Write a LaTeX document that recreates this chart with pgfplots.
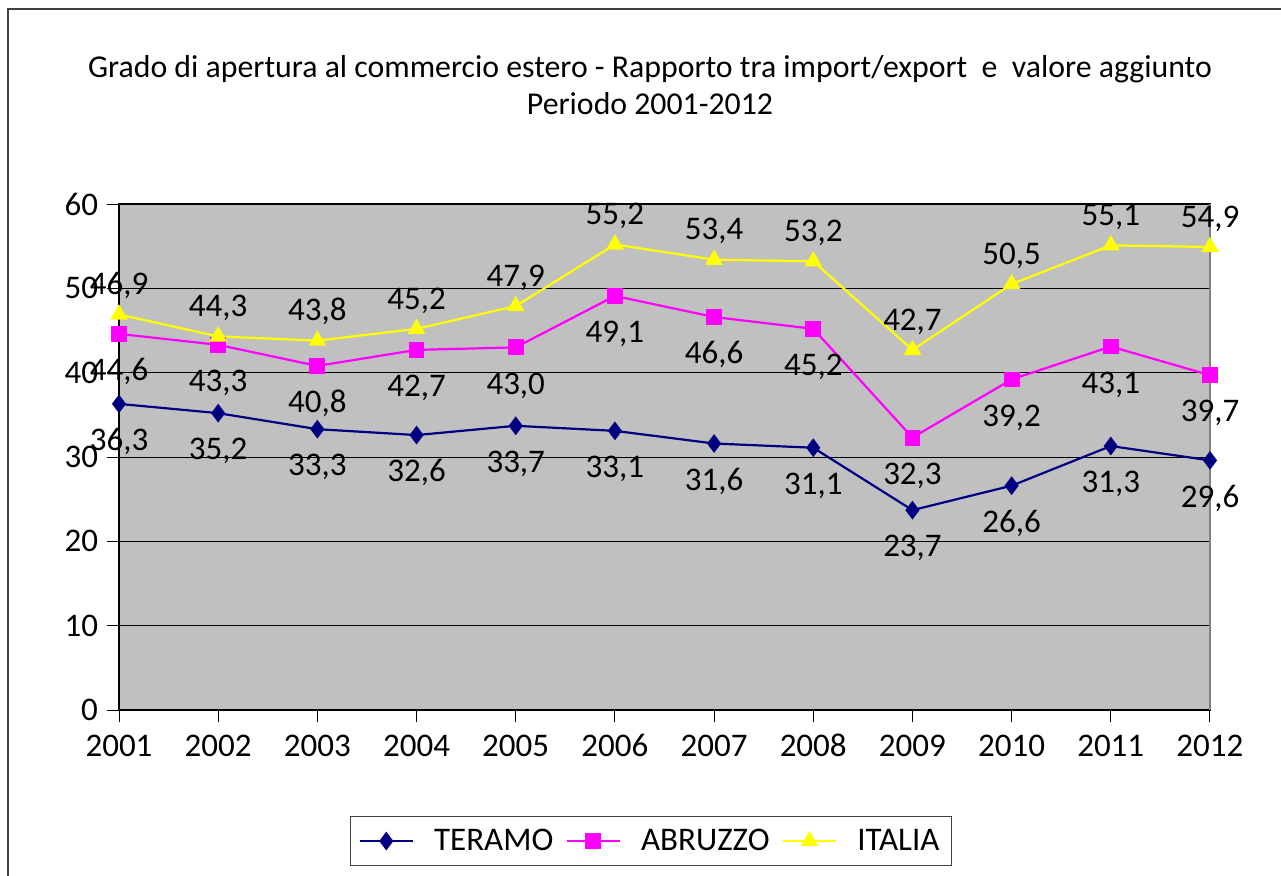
\documentclass[border=0pt]{standalone}
\usepackage{pgfplots}
\pgfplotsset{compat=1.18}
\usepackage{fontspec}
\setmainfont{Carlito}
\definecolor{teramo}{HTML}{000080}
\definecolor{abruzzo}{HTML}{FF00FF}
\definecolor{italia}{HTML}{FFFF00}
\definecolor{plotgray}{HTML}{C0C0C0}
\pgfplotsset{/pgf/number format/assume math mode=true}

\begin{document}
\begin{tikzpicture}
\path[use as bounding box] (0pt,0pt) rectangle (640.5pt,437.5pt);
\draw[line width=1pt, black!75] (4pt,-2pt) -- (4pt,433pt) -- (645pt,433pt);
\node[font=\fontsize{15.9}{18.5}\selectfont, align=center] at (325pt,395pt)
  {Grado di apertura al commercio estero - Rapporto tra import/export\ \ e\ \ valore aggiunto\\Periodo 2001-2012};
\begin{axis}[
  at={(59.5pt,82.5pt)}, anchor=south west,
  scale only axis, width=545.5pt, height=253pt,
  xmin=2001, xmax=2012, ymin=0, ymax=60,
  xtick={2001,...,2012}, ytick={0,10,...,60},
  axis background/.style={fill=plotgray},
  ymajorgrids, grid style={black, line width=0.5pt},
  axis line style={black, line width=0.8pt},
  tick align=outside, tick pos=left, major tick length=6pt,
  tick style={black, line width=0.5pt},
  tick label style={font=\fontsize{16.5}{18}\selectfont},
  xticklabel style={/pgf/number format/1000 sep={}, text height=11.5pt, text depth=0pt, yshift=-2pt},
  yticklabel style={xshift=-1pt},
  clip=false,
  every axis plot/.append style={line width=1.1pt},
  nodes near coords,
  nodes near coords style={font=\fontsize{16.5}{18}\selectfont, text=black,
    text height=11.5pt, text depth=2pt,
    /pgf/number format/fixed, /pgf/number format/fixed zerofill,
    /pgf/number format/precision=1, /pgf/number format/use comma},
  legend columns=3,
  legend style={at={(0.4876,-0.259)}, anchor=center, draw=black!75, line width=0.6pt,
    font=\fontsize{16.5}{18}\selectfont, inner xsep=4pt, inner ysep=4pt,
    /tikz/every even column/.append style={column sep=4pt},
    /tikz/every odd column/.append style={column sep=8pt}},
  legend image code/.code={\draw[mark repeat=2,mark phase=2]
    plot coordinates {(0cm,0cm)(0.47cm,0cm)(0.94cm,0cm)};},
]
\addplot[teramo, mark=diamond*, mark size=3.8pt,
  nodes near coords style={anchor=north, yshift=-8pt}] coordinates {
  (2001,36.3) (2002,35.2) (2003,33.3) (2004,32.6) (2005,33.7) (2006,33.1)
  (2007,31.6) (2008,31.1) (2009,23.7) (2010,26.6) (2011,31.3) (2012,29.6)};
\addlegendentry{TERAMO}
\addplot[abruzzo, mark=square*, mark size=3.4pt,
  nodes near coords style={anchor=north, yshift=-8pt}] coordinates {
  (2001,44.6) (2002,43.3) (2003,40.8) (2004,42.7) (2005,43.0) (2006,49.1)
  (2007,46.6) (2008,45.2) (2009,32.3) (2010,39.2) (2011,43.1) (2012,39.7)};
\addlegendentry{ABRUZZO}
\addplot[italia, mark=triangle*, mark size=4pt,
  nodes near coords style={anchor=south, yshift=4pt}] coordinates {
  (2001,46.9) (2002,44.3) (2003,43.8) (2004,45.2) (2005,47.9) (2006,55.2)
  (2007,53.4) (2008,53.2) (2009,42.7) (2010,50.5) (2011,55.1) (2012,54.9)};
\addlegendentry{ITALIA}
\draw[gray, line width=1pt] (rel axis cs:1,0) -- (rel axis cs:1,1);
\end{axis}
\end{tikzpicture}
\end{document}
